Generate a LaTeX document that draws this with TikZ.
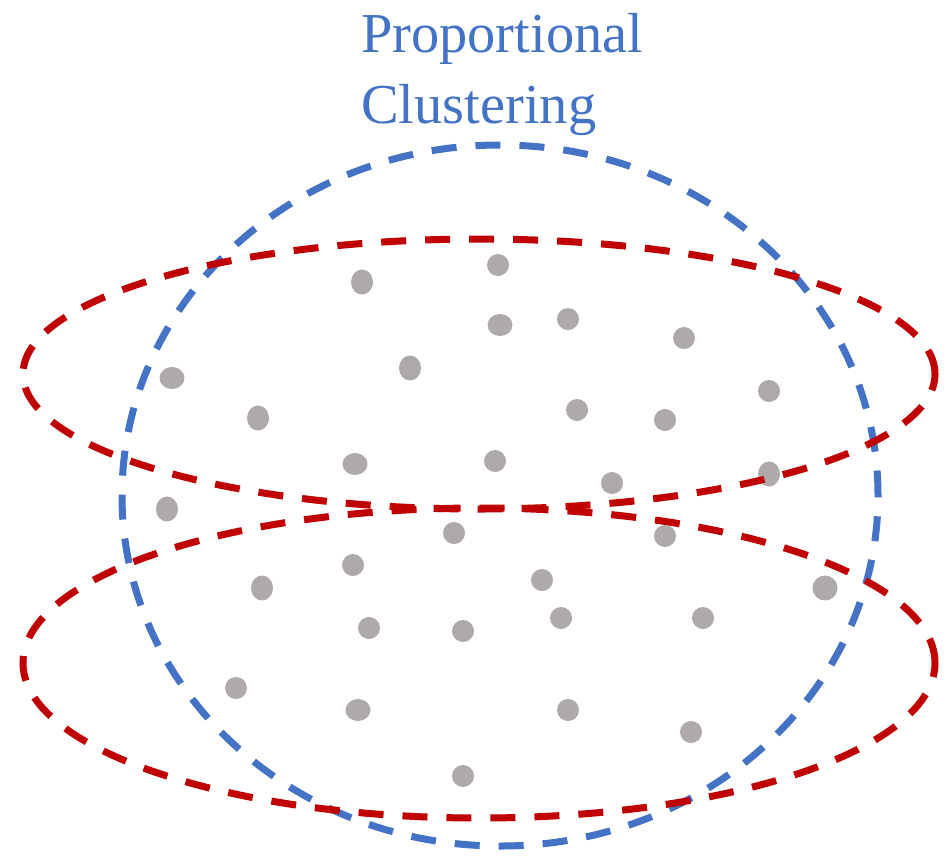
\documentclass[tikz,border=0pt]{standalone}
\usepackage{fontspec}
\setmainfont{Liberation Serif}
\definecolor{pblue}{HTML}{4472C4}
\definecolor{pred}{HTML}{C00000}
\definecolor{pgray}{HTML}{AEAAAA}
\begin{document}
\begin{tikzpicture}[x=1pt,y=-1pt,
  ring/.style={line width=7pt, dash pattern=on 25pt off 19pt},
  dot/.style={fill=pgray},
  title/.style={text=pblue, inner sep=0pt, anchor=base west, font=\fontsize{56.4}{71}\selectfont}]
\useasboundingbox (0,0) rectangle (944,855);
% dots
\foreach \x/\y in {498/265,568/319,684/338,577/410,665/420,769/391,495/461,612/483,454/533,665/536,353/565,542/580,369/628,463/631,561/618,703/618,236/688,568/710,691/732,463/776}
  \fill[dot] (\x,\y) circle[radius=11pt];
\foreach \x/\y in {362/282,410/368,258/418,769/474,167/509,262/588}
  \fill[dot] (\x,\y) ellipse[x radius=11pt, y radius=12.5pt];
\foreach \x/\y in {500/325,172/378,355/464,358/710}
  \fill[dot] (\x,\y) ellipse[x radius=12.5pt, y radius=11pt];
\fill[dot] (825,588) circle[radius=12.5pt];
% clusters
\draw[ring, pblue] (500,495.5) ellipse[x radius=378pt, y radius=350.5pt];
\draw[ring, pred] (479,374) ellipse[x radius=456pt, y radius=135pt];
\draw[ring, pred] (479,663) ellipse[x radius=456pt, y radius=155pt];
% title
\node[title] (t1) at (361,52) {Proportional};
\node[title] (t2) at (361,123) {Clustering};
\end{tikzpicture}
\end{document}
